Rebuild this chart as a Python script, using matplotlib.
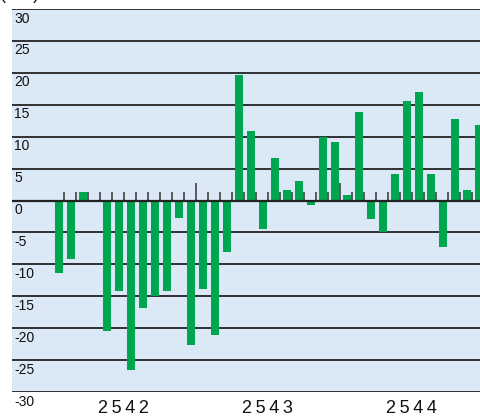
import matplotlib.pyplot as plt
import numpy as np

plt.rcParams['font.family'] = ['Liberation Sans', 'DejaVu Sans']

# monthly change, Jan 2542 .. Dec 2544
values = [-11.4, -9.2, 1.3, -0.3, -20.4, -14.2, -26.6, -16.8, -15.0, -14.1, -2.8, -22.6,
          -13.9, -21.0, -8.1, 19.7, 10.9, -4.5, 6.7, 1.6, 3.0, -0.7, 9.9, 9.1,
          0.9, 13.9, -2.9, -5.0, 4.1, 15.6, 17.0, 4.1, -7.3, 12.8, 1.7, 11.9]
years = ['2542', '2543', '2544']
yticks = [30, 25, 20, 15, 10, 5, 0, -5, -10, -15, -20, -25, -30]

fig = plt.figure(figsize=(4.8, 4.19), dpi=100)
ax = fig.add_axes([0.025, 0.0644, 0.975, 0.9141])
ax.set_facecolor('#dbe9f6')

x = np.arange(len(values)) + 0.58
ax.bar(x, values, width=0.67, color='#00a54f', zorder=3)

# gridlines
for v in yticks:
    ax.axhline(v, color='#222222', lw=1.3 if v else 1.6, zorder=2 if v else 4)

# small month marks above zero line, taller at year change
bounds = np.arange(1, len(values))
heights = np.where(bounds % 12 == 0, 2.7, 1.4)
ax.vlines(bounds, 0, heights, color='#333333', lw=1.1, zorder=2)

ax.set_xlim(-3.3, 35.7)
ax.set_ylim(-30, 30)
ax.set_xticks([])
ax.set_yticks([])
for s in ax.spines.values():
    s.set_visible(False)

trans = ax.get_yaxis_transform()
for v in yticks:
    ax.text(0.005, v - 0.4, str(v), transform=trans, ha='left', va='top',
            fontsize=10, color='#111111', clip_on=False, zorder=5)

for i, yr in enumerate(years):
    ax.text(6 + 12 * i, -32.6, '\u2009'.join(yr), ha='center', va='center',
            fontsize=13, color='#111111', clip_on=False)

fig.text(0.0, 1.0 + 0.033, '(Δ%)', ha='left', va='top', fontsize=13, color='#111111')

fig.savefig('out.png', dpi=100)
